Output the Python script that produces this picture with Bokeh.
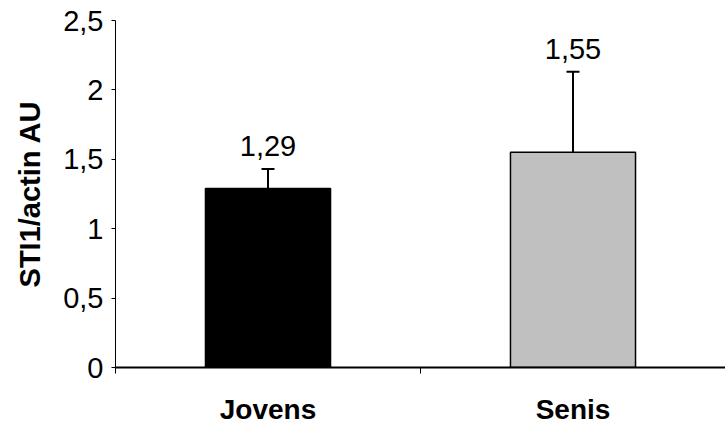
from bokeh.plotting import figure
from bokeh.models import (ColumnDataSource, Range1d, FixedTicker, CustomJSTickFormatter,
                          Whisker, TeeHead, LabelSet)
from bokeh.core.properties import value
from bokeh.embed import file_html
from bokeh.resources import INLINE

categories = ["Jovens", "Senis"]
means = [1.29, 1.55]
errors = [0.14, 0.58]
value_labels = ["1,29", "1,55"]
bar_colors = ["#000000", "#c0c0c0"]
y_ticks = [0, 0.5, 1, 1.5, 2, 2.5]
y_title = "STI1/actin AU"

FONT = "Liberation Sans"

x = [i + 0.5 for i in range(len(categories))]
upper = [m + e for m, e in zip(means, errors)]
src = ColumnDataSource(dict(x=x, top=means, upper=upper, color=bar_colors, label=value_labels))

p = figure(width=725, height=427, output_backend="svg", toolbar_location=None,
           x_range=Range1d(0, len(categories)), y_range=Range1d(0, y_ticks[-1]),
           min_border_top=20, min_border_right=0, min_border_left=115, min_border_bottom=0)
p.outline_line_color = None
p.grid.visible = False
p.background_fill_color = "white"
p.border_fill_color = "white"

p.vbar(x="x", top="top", bottom=0, width=0.41, fill_color="color",
       line_color="black", line_width=1.5, source=src)

w = Whisker(base="x", lower="top", upper="upper", source=src, line_width=2, line_color="black",
            upper_head=TeeHead(size=13, line_width=2, line_color="black"), lower_head=None,
            level="overlay")
p.add_layout(w)

labels = LabelSet(x="x", y="upper", text="label", source=src, text_align="center",
                  text_baseline="bottom", y_offset=13, text_font=value(FONT),
                  text_font_size="29px", text_color="black")
p.add_layout(labels)

# x axis
xa = p.xaxis[0]
xa.ticker = FixedTicker(ticks=x, minor_ticks=list(range(len(categories) + 1)))
xa.formatter = CustomJSTickFormatter(args=dict(cats=categories),
    code="const i = Math.floor(tick); return (i >= 0 && i < cats.length) ? cats[i] : '';")
xa.major_tick_line_color = None
xa.major_tick_out = 0
xa.major_tick_in = 0
xa.minor_tick_line_color = "black"
xa.minor_tick_out = 6
xa.minor_tick_in = 0
xa.axis_line_color = "black"
xa.axis_line_width = 2
xa.major_label_text_font = FONT
xa.major_label_text_font_style = "bold"
xa.major_label_text_font_size = "28px"
xa.major_label_text_color = "black"
xa.major_label_standoff = 20

# y axis
ya = p.yaxis[0]
ya.ticker = FixedTicker(ticks=y_ticks, minor_ticks=[])
ya.formatter = CustomJSTickFormatter(code="return tick.toString().replace('.', ',');")
ya.major_tick_out = 4
ya.major_tick_in = 0
ya.major_tick_line_color = "black"
ya.minor_tick_line_color = None
ya.axis_line_color = "black"
ya.axis_line_width = 1
ya.major_label_text_font = FONT
ya.major_label_text_font_size = "29px"
ya.major_label_text_color = "black"
ya.major_label_standoff = 8
ya.axis_label = y_title
ya.axis_label_text_font = FONT
ya.axis_label_text_font_style = "bold"
ya.axis_label_text_font_size = "29px"
ya.axis_label_text_color = "black"
ya.axis_label_standoff = 14

open("out.html", "w").write(file_html(p, INLINE))
